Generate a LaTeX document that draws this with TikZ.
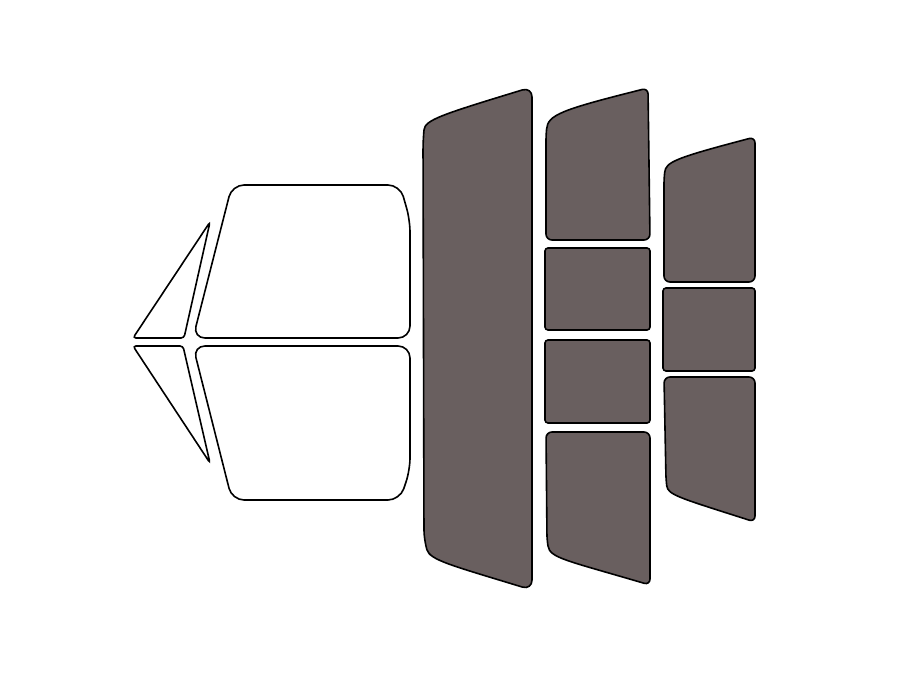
\documentclass[tikz,border=0pt]{standalone}
\begin{document}
\begin{tikzpicture}[x=1pt,y=-1pt]
\definecolor{tint}{HTML}{695F5F}
\tikzset{glass/.style={draw=black,line width=1.6pt,fill=white,rounded corners=6pt},
tinted/.style={glass,fill=tint}}
\useasboundingbox (0,0) rectangle (900,675);
% left small windows
\draw[glass,rounded corners=3pt] (210,222) -- (184,338) -- (133,338) -- cycle;
\draw[glass,rounded corners=3pt] (133,346) -- (183,346) -- (210,463) -- cycle;
% front door
\draw[glass,rounded corners=12pt] (232,185) -- (400,185) -- (410,220) -- (410,338) -- (193,338) -- cycle;
\draw[glass,rounded corners=12pt] (193,346) -- (410,346) -- (410,470) -- (400,500) -- (232,500) -- cycle;
% long panel
\draw[tinted,rounded corners=10pt] (423,140) .. controls (425,120) and (440,115) .. (532,87) -- (532,590) .. controls (450,565) and (430,560) .. (424,540) -- cycle;
% middle column
\draw[tinted] (546,135) .. controls (548,115) and (560,110) .. (648,88) -- (650,240) -- (546,240) -- cycle;
\draw[tinted,rounded corners=3pt] (545,248) rectangle (650,330);
\draw[tinted,rounded corners=3pt] (545,340) rectangle (650,423);
\draw[tinted] (546,432) -- (650,432) -- (650,585) .. controls (565,560) and (550,558) .. (547,540) -- cycle;
% right column
\draw[tinted] (664,178) .. controls (666,162) and (675,158) .. (755,137) -- (755,282) -- (664,282) -- cycle;
\draw[tinted,rounded corners=3pt] (663,288) rectangle (755,371);
\draw[tinted] (664,377) -- (755,377) -- (755,522) .. controls (680,498) and (668,495) .. (666,480) -- cycle;
\end{tikzpicture}
\end{document}
